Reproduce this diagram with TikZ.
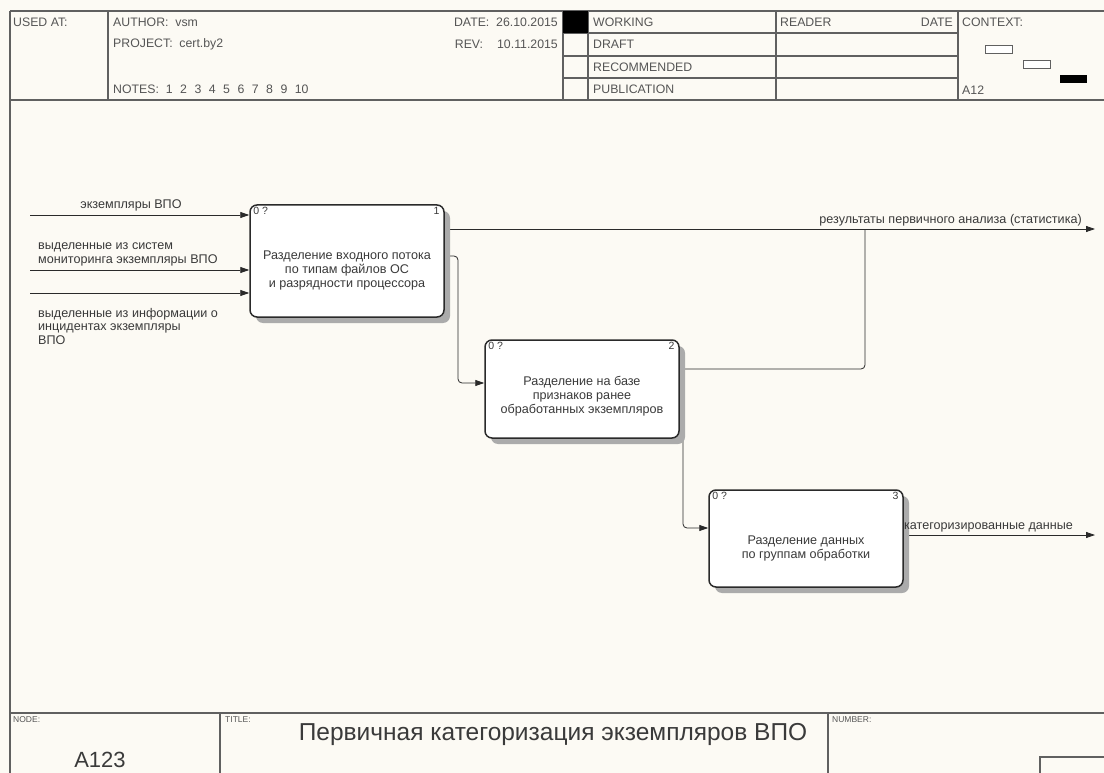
\documentclass[tikz,border=0pt]{standalone}
\usepackage{fontspec}
\setmainfont{Liberation Sans}
\usetikzlibrary{arrows.meta,shadows}
\definecolor{bgc}{HTML}{FCFAF4}
\definecolor{ln}{HTML}{2A2A2A}
\definecolor{fr}{HTML}{606060}
\definecolor{tx}{HTML}{3A3A3A}
\definecolor{ht}{HTML}{555555}
\definecolor{sh}{HTML}{ABABAB}
\pgfdeclarelayer{back}\pgfdeclarelayer{lines}\pgfsetlayers{back,lines,main}
\begin{document}
\begin{tikzpicture}[x=1pt,y=-1pt,
  frame/.style={draw=fr,line width=1.1pt},
  htext/.style={anchor=west,inner sep=0pt,text=ht,font=\fontsize{12.3}{14}\selectfont},
  ftext/.style={anchor=north west,inner sep=0pt,text=ht,font=\fontsize{8.5}{9}\selectfont},
  proc/.style={draw=ln,line width=1.5pt,rounded corners=7pt,fill=white,minimum width=194pt,inner sep=0pt,
     drop shadow={shadow xshift=6pt,shadow yshift=-6pt,fill=sh,opacity=1}},
  ptext/.style={align=center,text=tx,font=\fontsize{12.6}{14}\selectfont,inner sep=0pt},
  corner/.style={inner sep=0pt,text=tx,font=\fontsize{10.5}{11}\selectfont},
  flow/.style={draw=ln,line width=0.8pt,rounded corners=4pt,-{Triangle[length=9pt,width=6pt]}},
  link/.style={draw=ln,line width=0.8pt,rounded corners=4pt},
  albl/.style={text=tx,font=\fontsize{12.6}{13.5}\selectfont,inner sep=0pt,align=left}
]
\useasboundingbox (0,0) rectangle (1104,773);
\begin{pgfonlayer}{back}
\fill[bgc] (0,0) rectangle (1104,773);
\end{pgfonlayer}

% ---------- header ----------
\draw[frame] (10,11) -- (1104,11);
\draw[frame] (10,100) -- (1104,100);
\draw[frame] (10,11) -- (10,773);
\foreach \x in {108,563,588,776,958} \draw[frame] (\x,11) -- (\x,100);
\foreach \y in {33,56,78} \draw[frame] (563,\y) -- (958,\y);
\fill[black] (563,11) rectangle (588,33);

\node[htext] (usedat) at (13,22) {USED AT:};
\node[htext] (author) at (113,22) {AUTHOR:\ \ vsm};
\node[htext] (project) at (113,44) {PROJECT:\ \ cert.by2};
\node[htext] (notes) at (113,89) {NOTES:\ \ 1\hspace{7.5pt}2\hspace{7.5pt}3\hspace{7.5pt}4\hspace{7.5pt}5\hspace{7.5pt}6\hspace{7.5pt}7\hspace{7.5pt}8\hspace{7.5pt}9\hspace{7.5pt}10};
\node[htext,anchor=east] (date) at (558,22) {DATE:\ \ 26.10.2015};
\node[htext,anchor=east] (rev) at (558,44) {REV:\hspace{14pt}10.11.2015};
\node[htext] (working) at (593,22) {WORKING};
\node[htext] (draft) at (593,44) {DRAFT};
\node[htext] (recommended) at (593,67) {RECOMMENDED};
\node[htext] (publication) at (593,89) {PUBLICATION};
\node[htext] (reader) at (780,22) {READER};
\node[htext,anchor=east] (rdate) at (953,22) {DATE};
\node[htext] (context) at (962,22) {CONTEXT:};
\node[htext] (a12) at (962,90) {A12};
\draw[fr,line width=0.9pt,fill=white] (985,45) rectangle (1012,53);
\draw[fr,line width=0.9pt,fill=white] (1023,60) rectangle (1050,68);
\fill[black] (1060,75) rectangle (1087,83);

% ---------- footer ----------
\draw[frame] (10,713) -- (1104,713);
\draw[frame] (220,713) -- (220,773);
\draw[frame] (828,713) -- (828,773);
\draw[frame] (1040,773) -- (1040,757) -- (1104,757);
\node[ftext] (nodelbl) at (13,716) {NODE:};
\node[ftext] (titlelbl) at (225,716) {TITLE:};
\node[ftext] (numberlbl) at (832,716) {NUMBER:};
\node[inner sep=0pt,text=tx,font=\fontsize{22}{24}\selectfont] (nodeid) at (100,760) {A123};
\node[inner sep=0pt,text=tx,font=\fontsize{24.5}{27}\selectfont] (title) at (553,734) {Первичная категоризация экземпляров ВПО};

% ---------- boxes ----------
\node[proc,minimum height=112pt] (b1) at (347,261) {};
\node[proc,minimum height=98pt] (b2) at (582,389) {};
\node[proc,minimum height=97pt] (b3) at (806,538.5) {};

\node[ptext] (t1) at ([yshift=-9pt]b1.center) {Разделение входного потока\\по типам файлов ОС\\и разрядности процессора};
\node[ptext] (t2) at ([yshift=-7pt]b2.center) {Разделение на базе\\признаков ранее\\обработанных экземпляров};
\node[ptext] (t3) at ([yshift=-10pt]b3.center) {Разделение данных\\по группам обработки};

\node[corner,anchor=north west] (b1c) at ([xshift=4pt,yshift=-3pt]b1.north west) {0 ?};
\node[corner,anchor=north east] (b1n) at ([xshift=-5pt,yshift=-3pt]b1.north east) {1};
\node[corner,anchor=north west] (b2c) at ([xshift=4pt,yshift=-3pt]b2.north west) {0 ?};
\node[corner,anchor=north east] (b2n) at ([xshift=-5pt,yshift=-3pt]b2.north east) {2};
\node[corner,anchor=north west] (b3c) at ([xshift=4pt,yshift=-3pt]b3.north west) {0 ?};
\node[corner,anchor=north east] (b3n) at ([xshift=-5pt,yshift=-3pt]b3.north east) {3};

% ---------- connectors ----------
\coordinate (i1) at (30,215);
\coordinate (i2) at (30,270);
\coordinate (i3) at (30,293);
\coordinate (o1) at (1095,229);
\coordinate (j1) at (865,229);
\coordinate (j2) at (865,369);
\coordinate (c1) at (458,256);
\coordinate (c2) at (458,383);
\coordinate (c3) at (683,397);
\coordinate (c4) at (683,528);
\coordinate (o3) at (1095,535);

\begin{pgfonlayer}{lines}
\draw[flow] (i1) -- (b1.west |- i1);
\draw[flow] (i2) -- (b1.west |- i2);
\draw[flow] (i3) -- (b1.west |- i3);
\draw[flow] (b1.east |- o1) -- (o1);
\draw[link] (b2.east |- j2) -- (j2) -- (j1);
\draw[flow] (b1.east |- c1) -- (c1) -- (c2) -- (b2.west |- c2);
\draw[flow] (b2.east |- c3) -- (c3) -- (c4) -- (b3.west |- c4);
\draw[flow] (b3.east |- o3) -- (o3);
\end{pgfonlayer}

\node[albl,anchor=south] (l1) at (131,211) {экземпляры ВПО};
\node[albl,anchor=south west] (l2) at (38,266) {выделенные из систем\\мониторинга экземпляры ВПО};
\node[albl,anchor=north west] (l3) at (38,308) {выделенные из информации о\\инцидентах экземпляры\\ВПО};
\node[albl,anchor=south east] (l4) at (1082,226) {результаты первичного анализа (статистика)};
\node[albl,anchor=south west] (l5) at (904,532) {категоризированные данные};
\end{tikzpicture}
\end{document}
